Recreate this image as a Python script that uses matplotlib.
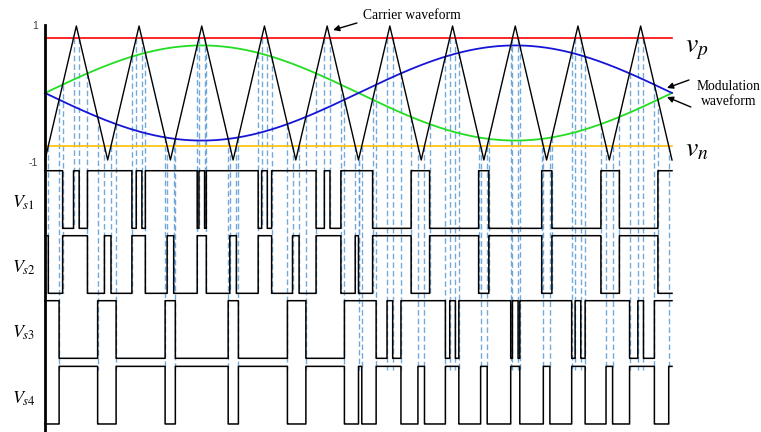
import numpy as np
import matplotlib.pyplot as plt

plt.rcParams['mathtext.fontset'] = 'stix'

# one fundamental period (ms) with 10 carrier cycles
t_end = 20.0
carrier_t = [0, 1, 2, 3, 4, 5, 6, 7, 8, 9, 10,
             11, 12, 13, 14, 15, 16, 17, 18, 19, 20]
carrier_v = [-1, 1, -1, 1, -1, 1, -1, 1, -1, 1, -1,
             1, -1, 1, -1, 1, -1, 1, -1, 1, -1]
mod_amp = 0.71          # modulation index
v_p = 0.82              # upper clamp level
v_n = -0.79             # lower clamp level
tick_values = [1, -1]
tick_labels = ['1', '-1']
signal_names = [r'$V_{s1}$', r'$V_{s2}$', r'$V_{s3}$', r'$V_{s4}$']

# lane layout for the gate signals (same units as the carrier)
lane_low = [-2.02, -2.99, -3.96, -4.94]
lane_h = 0.86

# ---- waveforms and comparisons
t = np.linspace(0, t_end, 40001)
c = np.interp(t, carrier_t, carrier_v)
g = mod_amp * np.sin(2 * np.pi * t / t_end)
b = -g
first_half = t < t_end / 2

s1 = np.where(first_half, (c < g) | (c > v_p), c < g)
s2 = np.where(first_half, (c > g) | (c < v_n), c > g)
s3 = np.where(first_half, c < b, (c < b) | (c > v_p))
s4 = np.where(first_half, c > b, (c > b) | (c < v_n))
signals = [s1, s2, s3, s4]


def edges(s):
    idx = np.nonzero(np.diff(s.astype(int)))[0] + 1
    return t[idx]


fig = plt.figure(figsize=(7.61, 4.32), dpi=100)
ax = fig.add_axes([0, 0, 1, 1])
ax.axis('off')
px_ms = 627 / t_end
ax.set_xlim(-45 / px_ms, (761 - 45) / px_ms)
ax.set_ylim((93 - 432) / 67, 93 / 67)

# ---- dashed switching instants, from the crossing down to the lane
dash_color = '#5B9BD5'
e1, e2, e3, e4 = [edges(s) for s in signals]
drops = []
for te in e1:
    if not np.any(np.isclose(e2, te, atol=0.01)):
        drops.append((te, lane_low[0]))
for te in e2:
    drops.append((te, lane_low[1]))
for te in np.union1d(e3, e4):
    drops.append((te, lane_low[3] + lane_h - 0.05))
for te, bottom in drops:
    top = np.interp(te, carrier_t, carrier_v)
    ax.plot([te, te], [top, bottom], color=dash_color, lw=1.0,
            dashes=(4, 2.2), alpha=0.85, zorder=1)

# ---- top panel
ax.plot([0, t_end], [v_p, v_p], color='#FF0000', lw=1.2, zorder=3)
ax.plot([0, t_end], [v_n, v_n], color='#FFC000', lw=1.2, zorder=3)
ax.plot(t, g, color='#22DD22', lw=1.3, zorder=4)
ax.plot(t, b, color='#1515D8', lw=1.3, zorder=4)
ax.plot(carrier_t, carrier_v, color='black', lw=1.0, zorder=5)

# left axis line
ax.plot([0, 0], [1.015, (93 - 432) / 67], color='black', lw=2, zorder=6,
        clip_on=False)
ax.text(-0.22, tick_values[0], tick_labels[0], ha='right', va='center',
        fontsize=7.5, color='#404040', family='Liberation Sans')
ax.text(-0.22, tick_values[1] - 0.04, tick_labels[1], ha='right',
        va='center', fontsize=7.5, color='#404040', family='Liberation Sans')

# ---- gate signals
for s, low, name in zip(signals, lane_low, signal_names):
    ax.plot(t, low + lane_h * s, color='black', lw=1.1,
            drawstyle='steps-post', zorder=5)
    ax.text(-1.04, low + lane_h / 2 - 8 / 67, name, fontsize=13,
            ha='left', va='baseline')

# ---- labels
ax.text(20.41, 0.60, r'$v_p$', fontsize=20, ha='left', va='baseline')
ax.text(20.41, -0.95, r'$v_n$', fontsize=20, ha='left', va='baseline')

serif = 'Liberation Serif'
ax.text(10.14, 1.15, 'Carrier waveform', fontsize=9.8, family=serif,
        ha='left', va='center')
arrow = dict(arrowstyle='-|>', color='black', lw=1.0, mutation_scale=9,
             shrinkA=0, shrinkB=0)
ax.annotate('', xy=(9.19, 0.94), xytext=(9.95, 1.045), arrowprops=arrow)

ax.text(21.8, -0.02, 'Modulation\nwaveform', fontsize=9.8, family=serif,
        ha='center', va='center', linespacing=1.2)
ax.annotate('', xy=(19.84, 0.075), xytext=(20.54, 0.194), arrowprops=arrow)
ax.annotate('', xy=(19.84, -0.06), xytext=(20.60, -0.209), arrowprops=arrow)

fig.savefig('out.png', dpi=100)
